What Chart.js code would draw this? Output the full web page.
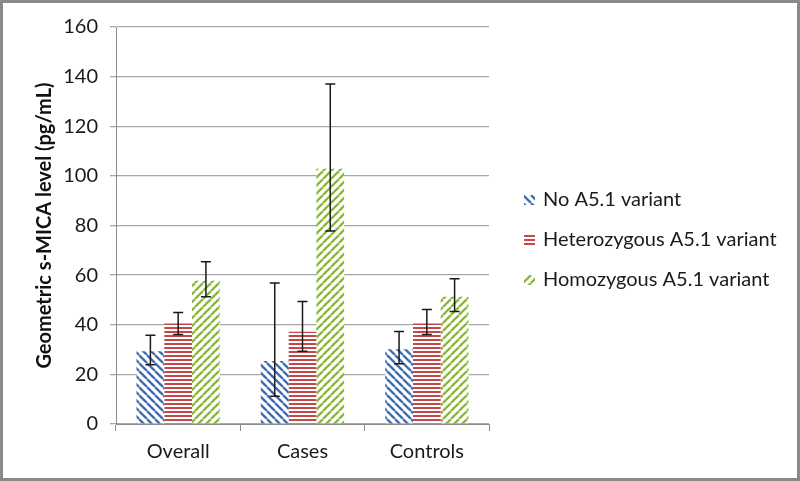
<!DOCTYPE html>
<html>
<head>
<meta charset="utf-8">
<script src="https://cdn.jsdelivr.net/npm/chart.js@4.4.0/dist/chart.umd.min.js"></script>
<style>
body{margin:0;background:#fff}
#frame{width:800px;height:481px;box-sizing:border-box;border:3px solid #8a8a8a;background:#fff}
canvas{display:block}
</style>
</head>
<body>
<div id="frame"><canvas id="chart" width="794" height="475"></canvas></div>
<script>
const categories = ['Overall', 'Cases', 'Controls']
const seriesNames = ['No A5.1 variant', 'Heterozygous A5.1 variant', 'Homozygous A5.1 variant']
const yTicks = [0, 20, 40, 60, 80, 100, 120, 140, 160]

const noVariant = [29.3, 25.4, 30.1]
const noVariantLow = [23.9, 11.2, 24.3]
const noVariantHigh = [35.8, 56.8, 37.3]

const heterozygous = [40.5, 37.2, 40.5]
const heterozygousLow = [36.1, 29.3, 36.1]
const heterozygousHigh = [44.9, 49.4, 46.1]

const homozygous = [57.7, 102.9, 51.3]
const homozygousLow = [51.3, 77.8, 45.3]
const homozygousHigh = [65.4, 137.0, 58.5]

const FONT = 'Lato'

// hatch fills like excel's pattern fills
function hatch(color, kind) {
  const c = document.createElement('canvas')
  const s = kind === 'h' ? 4 : 8
  c.width = s; c.height = s
  const g = c.getContext('2d')
  g.fillStyle = '#fff'
  g.fillRect(0, 0, s, s)
  if (kind === 'h') {
    g.fillStyle = color
    g.fillRect(0, 0, s, 2)
  } else {
    g.strokeStyle = color
    g.lineWidth = 2.3
    g.beginPath()
    for (const o of [-8, 0, 8]) {
      if (kind === 'down') { g.moveTo(o, 0); g.lineTo(o + 8, 8) }
      else { g.moveTo(o, 8); g.lineTo(o + 8, 0) }
    }
    g.stroke()
  }
  return g.createPattern(c, 'repeat')
}

const ctx = document.getElementById('chart').getContext('2d')
const fills = [hatch('#3a6fb8', 'down'), hatch('#c4484a', 'h'), hatch('#8cb543', 'up')]

const errorBars = {
  id: 'errorBars',
  afterDatasetsDraw(chart) {
    const c = chart.ctx, y = chart.scales.y
    chart.data.datasets.forEach((ds, i) => {
      chart.getDatasetMeta(i).data.forEach((bar, j) => {
        const top = y.getPixelForValue(ds.errHigh[j])
        const bot = y.getPixelForValue(ds.errLow[j])
        c.save()
        c.strokeStyle = '#1a1a1a'
        c.lineWidth = 1.5
        c.beginPath()
        c.moveTo(bar.x, top); c.lineTo(bar.x, bot)
        c.moveTo(bar.x - 5, top); c.lineTo(bar.x + 5, top)
        c.moveTo(bar.x - 5, bot); c.lineTo(bar.x + 5, bot)
        c.stroke()
        c.restore()
      })
    })
  }
}

const sideLegend = {
  id: 'sideLegend',
  afterDraw(chart) {
    const c = chart.ctx
    c.save()
    c.font = '20px ' + FONT
    c.textBaseline = 'middle'
    chart.data.datasets.forEach((ds, i) => {
      const cy = 197 + i * 40
      c.fillStyle = ds.backgroundColor
      c.fillRect(521, cy - 5, 11, 10)
      c.fillStyle = '#1a1a1a'
      c.fillText(ds.label, 540, cy)
    })
    c.restore()
  }
}

new Chart(ctx, {
  type: 'bar',
  data: {
    labels: categories,
    datasets: [
      {label: seriesNames[0], data: noVariant, errLow: noVariantLow, errHigh: noVariantHigh, backgroundColor: fills[0]},
      {label: seriesNames[1], data: heterozygous, errLow: heterozygousLow, errHigh: heterozygousHigh, backgroundColor: fills[1]},
      {label: seriesNames[2], data: homozygous, errLow: homozygousLow, errHigh: homozygousHigh, backgroundColor: fills[2]}
    ]
  },
  options: {
    responsive: false,
    animation: false,
    categoryPercentage: 0.67,
    barPercentage: 1,
    layout: {padding: {top: 22, right: 308, left: 0, bottom: 0}},
    plugins: {legend: {display: false}, tooltip: {enabled: false}},
    scales: {
      x: {
        grid: {offset: true, drawOnChartArea: false, tickLength: 7, color: '#8c8c8c'},
        border: {color: '#8c8c8c'},
        ticks: {font: {family: FONT, size: 20}, color: '#1a1a1a', padding: 9},
        afterFit(s) { s.height = 54 }
      },
      y: {
        min: 0, max: 160,
        afterBuildTicks(s) { s.ticks = yTicks.map(v => ({value: v})) },
        grid: {color: '#a6a6a6', tickLength: 6, lineWidth: 1.3},
        border: {color: '#8c8c8c'},
        ticks: {font: {family: FONT, size: 20}, color: '#1a1a1a', padding: 12},
        title: {display: true, text: 'Geometric s-MICA level (pg/mL)', font: {family: FONT, size: 20, weight: 'bold'}, color: '#111', padding: {top: 30, bottom: 0}},
        afterFit(s) { s.width = 113 }
      }
    }
  },
  plugins: [errorBars, sideLegend]
})
</script>
</body>
</html>
